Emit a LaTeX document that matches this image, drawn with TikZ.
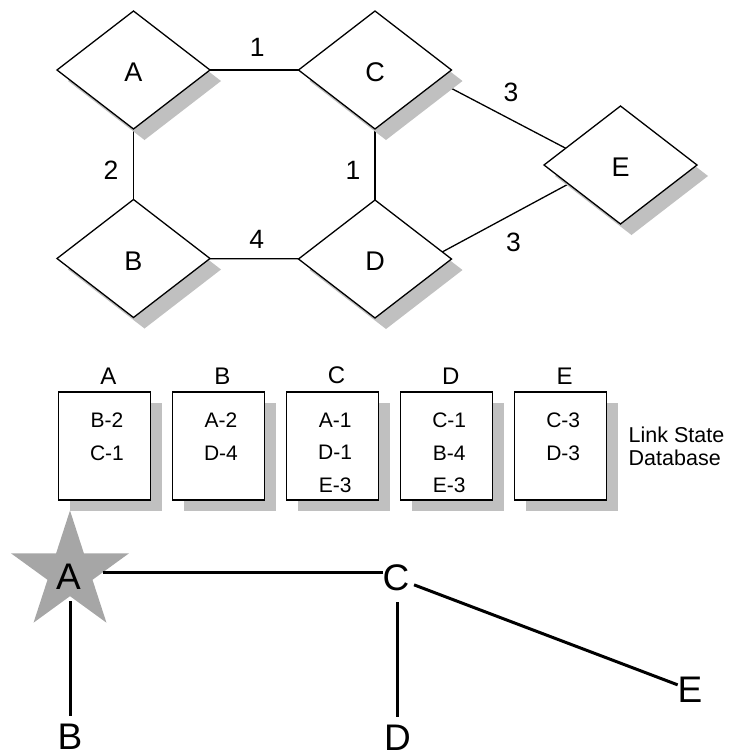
\documentclass[tikz,border=0pt]{standalone}
\usepackage{fontspec}
\setmainfont{Liberation Sans}
\usetikzlibrary{shapes.geometric,shadows,backgrounds}
\definecolor{shadowgray}{RGB}{192,192,192}
\definecolor{stargray}{RGB}{166,166,166}
\begin{document}
\begin{tikzpicture}[x=1pt,y=-1pt,
  softshadow/.style={drop shadow={shadow xshift=11pt, shadow yshift=-11pt, fill=shadowgray, opacity=1}},
  router/.style={diamond, draw, line width=1.3pt, fill=white, minimum width=153pt, minimum height=118pt,
    inner sep=0pt, outer sep=0pt, font=\fontsize{27}{30}\selectfont, text height=23pt, text depth=0pt, softshadow},
  link/.style={line width=1.3pt},
  cost/.style={font=\fontsize{26.5}{30}\selectfont, inner sep=0pt},
  dbbox/.style={rectangle, draw, line width=1.5pt, fill=white, minimum width=92pt, minimum height=108pt,
    inner sep=0pt, outer sep=0pt, softshadow},
  dbhead/.style={font=\fontsize{24}{28}\selectfont, inner sep=0pt, anchor=south},
  dbtext/.style={font=\fontsize{21}{32.5}\selectfont, align=center, inner sep=0pt, anchor=north},
  dbnote/.style={font=\fontsize{21.5}{23.3}\selectfont, align=left, inner sep=0pt, anchor=west},
  tree/.style={font=\fontsize{37}{44}\selectfont, inner sep=0pt, outer sep=0pt},
  branch/.style={line width=3pt},
]
\useasboundingbox (0,0) rectangle (733,753);

% ---- network of routers ----
\node[router] (A) at (133.5,70) {A};
\node[router] (C) at (375,70) {C};
\node[router] (B) at (133.5,258.5) {B};
\node[router] (D) at (375,259) {D};
\node[router] (E) at (620.5,165) {E};

\begin{scope}[on background layer]
  \draw[link] (A) -- node[cost, shift={(3,-23)}] (c1) {1} (C);
  \draw[link] (A) -- node[cost, shift={(-22.5,6)}] (c2) {2} (B);
  \draw[link] (C) -- node[cost, shift={(-22,5.5)}] (c3) {1} (D);
  \draw[link] (B) -- node[cost, shift={(2.5,-19)}] (c4) {4} (D);
  \draw[link] (C.-10) -- node[cost, shift={(9.5,-22)}] (c5) {3} (E.163);
  \draw[link] (D.6) -- node[cost, shift={(8,24)}] (c6) {3} (E.200);
\end{scope}

% ---- link state database ----
\foreach \n/\x/\t in {A/104.5/{B-2\\C-1},B/218.5/{A-2\\D-4},C/332.6/{A-1\\D-1\\E-3},D/446.7/{C-1\\B-4\\E-3},E/560.7/{C-3\\D-3}}{
  \node[dbbox] (b\n) at (\x,446) {};
  \node[dbhead] (h\n) at ([shift={(4,-7.7)}]b\n.north) {\n};
  \node[dbtext] (t\n) at ([shift={(2.5,20.8)}]b\n.north) {\t};
}
\node[dbnote] (lsd) at (628.5,446.5) {Link State\\Database};

% ---- shortest path tree ----
\node[star, star points=5, star point ratio=2.62, minimum size=124pt, inner sep=0pt, outer sep=0pt, fill=stargray] (sA) at (70,572.5) {};
\node[tree] (tA) at (68.5,577) {A};
\node[tree] (tC) at (396,578) {C};
\node[tree] (tB) at (70,736.5) {B};
\node[tree] (tD) at (397.5,738) {D};
\node[tree] (tE) at (690,689.5) {E};

\draw[branch] (sA) -- (sA -| tC.west);
\draw[branch, shorten <=11.5pt, shorten >=8pt] (tA.south -| tB.north) -- (tB.north);
\draw[branch, shorten <=11pt, shorten >=8pt] (tC.south -| tD.north) -- (tD.north);
\draw[branch, shorten <=5pt] (tC) -- (tE);
\end{tikzpicture}
\end{document}
